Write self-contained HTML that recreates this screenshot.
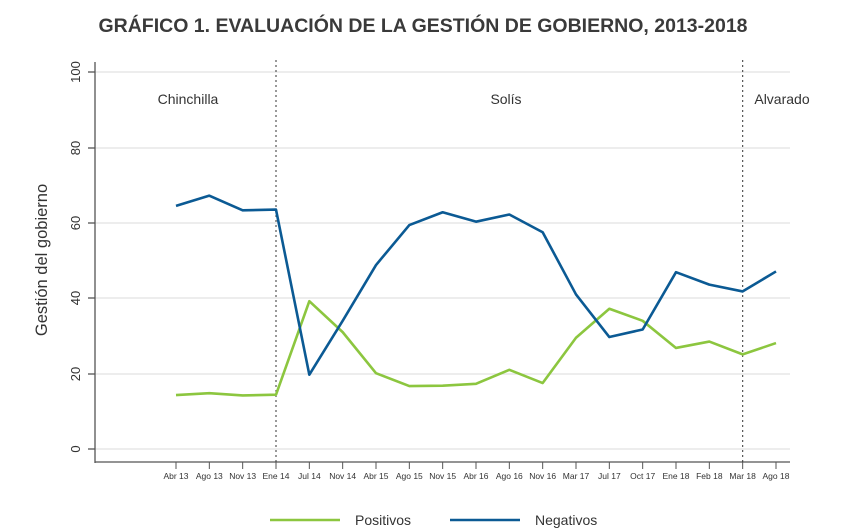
<!DOCTYPE html><html><head><meta charset="utf-8"><style>body{margin:0;background:#fff}svg{display:block;font-family:"Liberation Sans",sans-serif}</style></head><body>
<svg width="842" height="532" viewBox="0 0 842 532">
<text x="423" y="32" text-anchor="middle" font-size="19.5" font-weight="bold" fill="#3a3a3a">GRÁFICO 1. EVALUACIÓN DE LA GESTIÓN DE GOBIERNO, 2013-2018</text>
<g stroke="#e2e2e2" stroke-width="1.2">
<line x1="95" x2="790" y1="72" y2="72"/><line x1="95" x2="790" y1="148" y2="148"/><line x1="95" x2="790" y1="223" y2="223"/><line x1="95" x2="790" y1="298" y2="298"/><line x1="95" x2="790" y1="374" y2="374"/><line x1="95" x2="790" y1="449" y2="449"/></g>
<g stroke="#555" stroke-width="1.3"><line x1="95" x2="95" y1="62" y2="463"/><line x1="95" x2="790" y1="462" y2="462"/>
<g><line x1="88" x2="95" y1="72" y2="72"/><line x1="88" x2="95" y1="148" y2="148"/><line x1="88" x2="95" y1="223" y2="223"/><line x1="88" x2="95" y1="298" y2="298"/><line x1="88" x2="95" y1="374" y2="374"/><line x1="88" x2="95" y1="449" y2="449"/></g></g>
<g font-size="13" fill="#333" text-anchor="middle">
<text transform="translate(80,72) rotate(-90)">100</text><text transform="translate(80,148) rotate(-90)">80</text><text transform="translate(80,223) rotate(-90)">60</text><text transform="translate(80,298) rotate(-90)">40</text><text transform="translate(80,374) rotate(-90)">20</text><text transform="translate(80,449) rotate(-90)">0</text>
<text transform="translate(47,260) rotate(-90)" font-size="16.5">Gestión del gobierno</text></g>
<g stroke="#333" stroke-dasharray="2,3" stroke-width="1"><line x1="276" x2="276" y1="60" y2="462"/><line x1="742.7" x2="742.7" y1="60" y2="462"/></g>
<g font-size="14" fill="#333" text-anchor="middle"><text x="188" y="104">Chinchilla</text><text x="506" y="104">Solís</text><text x="782" y="104">Alvarado</text></g>
<g stroke="#555" stroke-width="1" id="xt"></g>
<g font-size="8.5" fill="#333" text-anchor="middle" id="xl"></g>
<polyline id="g" fill="none" stroke="#8cc63f" stroke-width="2.6" stroke-linejoin="round"/>
<polyline id="b" fill="none" stroke="#0b5a94" stroke-width="2.6" stroke-linejoin="round"/>
<line x1="270" x2="340" y1="520" y2="520" stroke="#8cc63f" stroke-width="2.6"/><text x="355" y="525" font-size="14" fill="#333">Positivos</text>
<line x1="450" x2="520" y1="520" y2="520" stroke="#0b5a94" stroke-width="2.6"/><text x="535" y="525" font-size="14" fill="#333">Negativos</text>
</svg>
<script>
var L="Abr 13,Ago 13,Nov 13,Ene 14,Jul 14,Nov 14,Abr 15,Ago 15,Nov 15,Abr 16,Ago 16,Nov 16,Mar 17,Jul 17,Oct 17,Ene 18,Feb 18,Mar 18,Ago 18".split(",");
var B=[64.5,67.2,63.3,63.5,19.7,34,48.8,59.4,62.8,60.3,62.2,57.5,41,29.7,31.7,46.9,43.6,41.8,47.1];
var G=[14.3,14.8,14.2,14.4,39.2,31,20.1,16.7,16.8,17.3,21,17.5,29.5,37.2,34,26.8,28.5,25.1,28.1];
var ns="http://www.w3.org/2000/svg",xt=document.getElementById("xt"),xl=document.getElementById("xl"),pb=[],pg=[];
L.forEach(function(l,i){var x=176+i*600/18;var t=document.createElementNS(ns,"line");t.setAttribute("x1",x);t.setAttribute("x2",x);t.setAttribute("y1",462);t.setAttribute("y2",469);xt.appendChild(t);
var s=document.createElementNS(ns,"text");s.setAttribute("x",x);s.setAttribute("y",479);s.textContent=l;xl.appendChild(s);
pb.push(x+","+(449-B[i]*3.77));pg.push(x+","+(449-G[i]*3.77));});
document.getElementById("b").setAttribute("points",pb.join(" "));document.getElementById("g").setAttribute("points",pg.join(" "));
</script></body></html>
